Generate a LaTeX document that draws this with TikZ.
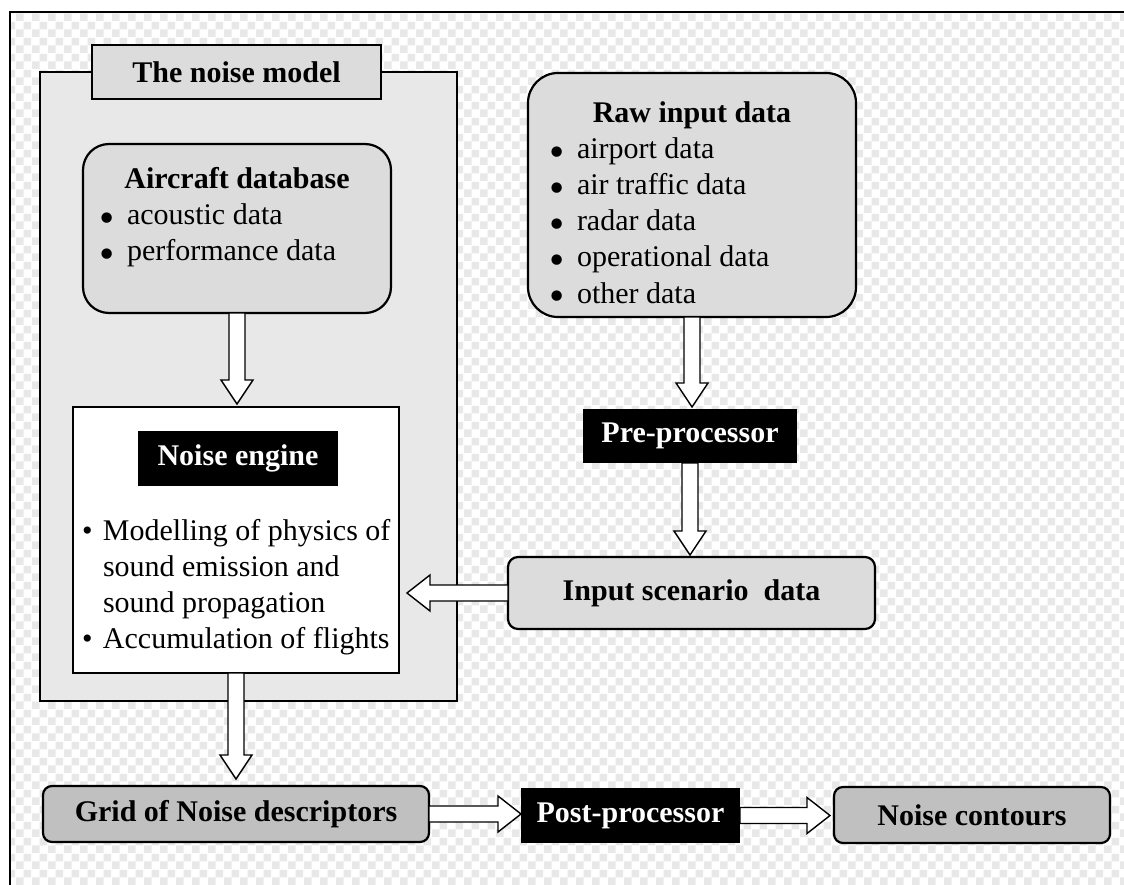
\documentclass[tikz,border=0pt]{standalone}
\usepackage{fontspec}
\setmainfont{Liberation Serif}
\usetikzlibrary{calc,patterns}
\pgfdeclarepatternformonly{ckb}{\pgfpointorigin}{\pgfqpoint{16pt}{16pt}}{\pgfqpoint{16pt}{16pt}}{%
  \pgfpathrectangle{\pgfpointorigin}{\pgfqpoint{8pt}{8pt}}%
  \pgfpathrectangle{\pgfqpoint{8pt}{8pt}}{\pgfqpoint{8pt}{8pt}}%
  \pgfusepath{fill}}
\definecolor{ckgray}{HTML}{E8E8E8}
\definecolor{modelgray}{HTML}{E8E8E8}
\definecolor{boxgray}{HTML}{DCDCDC}
\definecolor{darkbox}{HTML}{C0C0C0}
\newcommand{\bigbul}{\smash{\raisebox{-8pt}{\scalebox{1.45}{•}}}}
\newcommand\blkdown[2]{\draw[blk] let \p1=(#1),\p2=(#2) in
  (\x1-8pt,\y1) -- (\x1-8pt,\y2+24pt) -- (\x1-16pt,\y2+24pt) -- (\x1,\y2)
  -- (\x1+16pt,\y2+24pt) -- (\x1+8pt,\y2+24pt) -- (\x1+8pt,\y1) -- cycle;}
\newcommand\blkright[2]{\draw[blk] let \p1=(#1),\p2=(#2) in
  (\x1,\y1+8pt) -- (\x2-23pt,\y1+8pt) -- (\x2-23pt,\y1+18pt) -- (\x2,\y1)
  -- (\x2-23pt,\y1-18pt) -- (\x2-23pt,\y1-8pt) -- (\x1,\y1-8pt) -- cycle;}
\newcommand\blkleft[2]{\draw[blk] let \p1=(#1),\p2=(#2) in
  (\x1,\y1+8pt) -- (\x2+23pt,\y1+8pt) -- (\x2+23pt,\y1+18pt) -- (\x2,\y1)
  -- (\x2+23pt,\y1-18pt) -- (\x2+23pt,\y1-8pt) -- (\x1,\y1-8pt) -- cycle;}
\begin{document}
\begin{tikzpicture}[x=1pt,y=-1pt,
  every node/.style={inner sep=0pt, outer sep=0pt},
  reg/.style={font=\fontsize{30}{36}\selectfont},
  bold/.style={font=\fontsize{30}{36}\selectfont\bfseries},
  rbox/.style={draw, line width=2.2pt, fill=boxgray},
  dbox/.style={draw, line width=2.2pt, fill=darkbox, rounded corners=9pt},
  blackbox/.style={fill=black, text=white, bold},
  blk/.style={draw, fill=white, line width=1.4pt, line join=miter}]
\useasboundingbox (0,0) rectangle (1124,885);
\fill[white] (0,0) rectangle (1124,885);
\fill[pattern=ckb, pattern color=ckgray] (10,12) rectangle (1124,885);
\draw[line width=2pt] (10,885) -- (10,12) -- (1124,12);

% the noise model
\node[draw, line width=1.8pt, fill=modelgray, minimum width=417pt, minimum height=629pt] (model) at (248.5,386.5) {};
\node[draw, line width=1.8pt, fill=boxgray, minimum width=289pt, minimum height=54pt, bold] (title) at (236.5,72) {The noise model};

% aircraft database
\node[rbox, rounded corners=26pt, minimum width=308pt, minimum height=169pt] (air) at (237,228.5) {};
\node[bold, anchor=base] (airT) at (237,189) {Aircraft database};
\node[reg, anchor=base west] (air1) at (99,225) {\makebox[28pt][l]{\bigbul}acoustic data};
\node[reg, anchor=base west] (air2) at (99,261) {\makebox[28pt][l]{\bigbul}performance data};

% noise engine
\node[draw, line width=1.6pt, fill=white, minimum width=326pt, minimum height=266pt] (engine) at (236,540) {};
\node[blackbox, minimum width=200pt, minimum height=55pt] (engT) at (238,458.5) {Noise engine};
\node[reg, anchor=base west] (eng1) at (82,540) {\makebox[21pt][l]{•}Modelling of physics of};
\node[reg, anchor=base west] (eng2) at (103,576) {sound emission and};
\node[reg, anchor=base west] (eng3) at (103,612) {sound propagation};
\node[reg, anchor=base west] (eng4) at (82,648) {\makebox[21pt][l]{•}Accumulation of flights};

% raw input data
\node[rbox, rounded corners=30pt, minimum width=328pt, minimum height=244pt] (raw) at (692,195) {};
\node[bold, anchor=base] (rawT) at (692,123) {Raw input data};
\node[reg, anchor=base west] (raw1) at (549,159) {\makebox[28pt][l]{\bigbul}airport data};
\node[reg, anchor=base west] (raw2) at (549,195) {\makebox[28pt][l]{\bigbul}air traffic data};
\node[reg, anchor=base west] (raw3) at (549,231) {\makebox[28pt][l]{\bigbul}radar data};
\node[reg, anchor=base west] (raw4) at (549,267) {\makebox[28pt][l]{\bigbul}operational data};
\node[reg, anchor=base west] (raw5) at (549,303) {\makebox[28pt][l]{\bigbul}other data};

% pre-processor and input scenario
\node[blackbox, minimum width=214pt, minimum height=54pt] (pre) at (690,436) {Pre-processor};
\node[rbox, rounded corners=10pt, minimum width=367pt, minimum height=72pt, bold] (input) at (691.5,593) {Input scenario\ \ data};

% bottom row
\node[dbox, minimum width=386pt, minimum height=56pt, bold] (grid) at (236,814) {Grid of Noise descriptors};
\node[blackbox, minimum width=219pt, minimum height=55pt] (post) at (630.5,815.5) {Post-processor};
\node[dbox, minimum width=276pt, minimum height=56pt, bold] (contours) at (972,815) {Noise contours};

% block arrows
\blkdown{air.south}{$(engine.north)+(0,-3)$}
\blkdown{raw.south}{$(pre.north)+(0,-2)$}
\blkdown{pre.south}{$(input.north)+(0,-2)$}
\blkleft{input.west}{$(engine.east)+(8,0)$}
\blkdown{engine.south}{$(grid.north)+(0,-7)$}
\blkright{grid.east}{post.west}
\blkright{post.east}{$(contours.west)+(-4,0)$}
\end{tikzpicture}
\end{document}
